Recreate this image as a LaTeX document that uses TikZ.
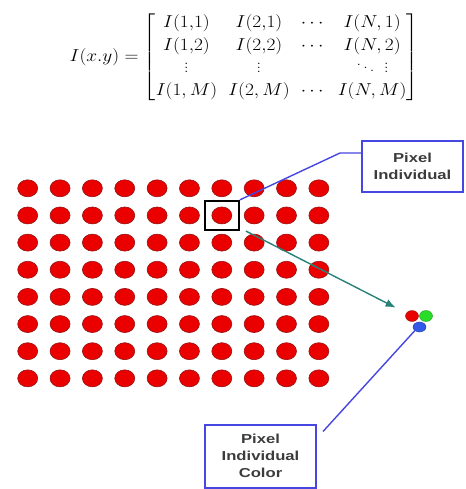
\documentclass[tikz,border=0pt]{standalone}
\usepackage{amsmath,amssymb}
\usepackage{fontspec}
\usepackage{tikz}
\usetikzlibrary{arrows.meta,shapes.geometric,calc}
\newfontfamily\labelfont[FakeStretch=1.28]{Liberation Sans}
\definecolor{pixred}{RGB}{235,0,0}
\definecolor{pixedge}{RGB}{150,20,20}
\definecolor{linkblue}{RGB}{70,70,225}
\definecolor{arrteal}{RGB}{40,130,120}
\definecolor{subgreen}{RGB}{40,220,40}
\definecolor{subblue}{RGB}{50,90,230}
\definecolor{labelgray}{RGB}{60,60,60}
\tikzset{
  pixdot/.style={ellipse, minimum width=20pt, minimum height=17pt, inner sep=0pt, fill=pixred, draw=pixedge, line width=0.6pt},
  subdot/.style={ellipse, minimum width=13pt, minimum height=11pt, inner sep=0pt, line width=0.4pt},
  labelbox/.style={draw=linkblue, line width=2pt, fill=white, align=center, text=labelgray, font=\fontsize{13}{17}\selectfont\labelfont\bfseries, inner sep=0pt},
  link/.style={linkblue, line width=1.4pt},
}

\begin{document}
\begin{tikzpicture}[x=1pt, y=-1pt]
\useasboundingbox (0,0) rectangle (465,489);
% image matrix
\node[font=\fontsize{16}{18}\selectfont, xscale=1.12, transform shape, inner sep=0pt] (imgeq) at (244,57)
  {$\setlength\arraycolsep{5pt}\renewcommand{\arraystretch}{1.25}
  I(x.y) = \begin{bmatrix}
  I(1{,}1) & I(2{,}1) & \cdots & I(N,1)\\
  I(1{,}2) & I(2{,}2) & \cdots & I(N,2)\\
  \vdots & \vdots &        & \ddots\;\vdots\\
  I(1,M) & I(2,M) & \cdots & I(N,M)
  \end{bmatrix}$};
% grid of pixels
\foreach \c in {1,...,10}{
  \foreach \r in {1,...,8}{
    \node[pixdot] (dot-\c-\r) at ({27.7+32.35*(\c-1)},{188.3+27.15*(\r-1)}) {};
  }
}
\node[draw=black, line width=2.2pt, minimum width=34pt, minimum height=29pt, inner sep=0pt] (pick) at (dot-7-2) {};
% labels
\node[labelbox, minimum width=101pt, minimum height=51pt] (pixbox) at (412.5,166.5) {Pixel\\Individual};
\node[labelbox, minimum width=111pt, minimum height=63pt] (colbox) at (260.5,456) {Pixel\\Individual\\Color};
% sub pixels
\node[subdot, fill=subgreen, draw=subgreen!70!black] (gdot) at (426,316) {};
\node[subdot, fill=pixred, draw=pixedge] (rdot) at (412,316) {};
\node[subdot, fill=subblue, draw=subblue!70!black, minimum height=10pt] (bdot) at (419.5,327) {};
% connectors
\coordinate (bend) at (340,153);
\draw[link] (pick.north east) -- (bend) -- (bend -| pixbox.west);
\draw[arrteal, line width=1.4pt, -{Latex[length=10pt,width=8pt]}, shorten >=12pt] ($(pick.south east)+(6,0)$) -- (rdot);
\draw[link] (bdot.south west) -- ($(colbox.north east)+(6,8)$);
\end{tikzpicture}
\end{document}
